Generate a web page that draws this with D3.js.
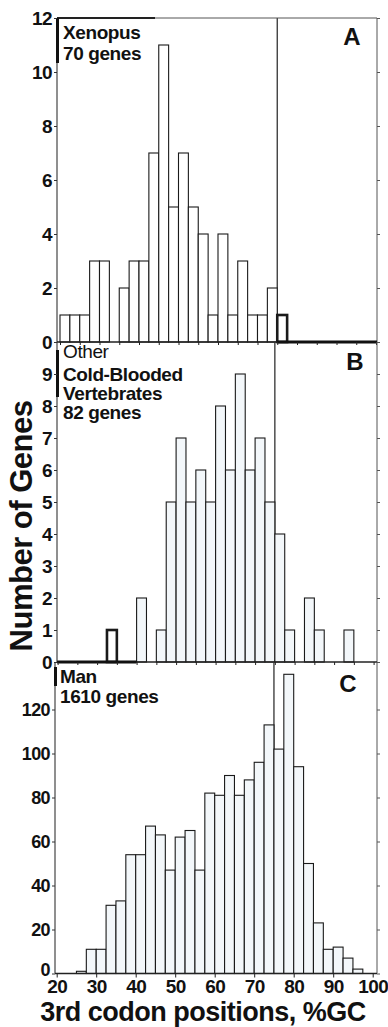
<!DOCTYPE html>
<html>
<head>
<meta charset="utf-8">
<script src="https://cdn.jsdelivr.net/npm/d3@7"></script>
<style>
  html, body { margin: 0; padding: 0; background: #fff; }
  svg { display: block; }
  text { font-family: "Liberation Sans", Arial, Helvetica, sans-serif; fill: #111; }
</style>
</head>
<body>
<svg id="chart" width="388" height="1027"></svg>
<script>
// ---------- DATA ----------
// Bin start (%GC, 2.5% wide bins)
const binsA   = [20, 22.5, 25, 27.5, 30, 32.5, 35, 37.5, 40, 42.5, 45, 47.5, 50, 52.5, 55, 57.5, 60, 62.5, 65, 67.5, 70, 72.5, 75];
const countsA = [1,  1,    1,  3,    3,  0,    2,  3,    3,  7,    11, 5,    7,  5,    4,  1,    4,  1,    3,  1,    1,  2,    1];
const boldA   = [75];

const binsB   = [32.5, 35, 37.5, 40, 42.5, 45, 47.5, 50, 52.5, 55, 57.5, 60, 62.5, 65, 67.5, 70, 72.5, 75, 77.5, 80, 82.5, 85, 87.5, 90, 92.5];
const countsB = [1,    0,  0,    2,  0,    1,  5,    7,  5,    6,  5,    8,  6,    9,  6,    7,  5,    4,  1,    0,  2,    1,  0,    0,  1];
const boldB   = [32.5];

const binsC   = [25, 27.5, 30, 32.5, 35, 37.5, 40, 42.5, 45, 47.5, 50, 52.5, 55, 57.5, 60, 62.5, 65, 67.5, 70, 72.5, 75, 77.5, 80, 82.5, 85, 87.5, 90, 92.5, 95];
const countsC = [1,  11,   11, 31,   33, 54,   54, 67,   63, 47,   62, 65,   47, 82,   81, 90,   81, 88,   96, 113,  102, 136, 94, 50,   23, 11,   12, 7,    2];
const boldC   = [];

const ticksA  = [0, 2, 4, 6, 8, 10, 12];
const ticksB  = [0, 1, 2, 3, 4, 5, 6, 7, 8, 9];
const ticksC  = [0, 20, 40, 60, 80, 100, 120];
const xTicksMajor = [20, 30, 40, 50, 60, 70, 80, 90, 100];
const xTicksMinor = [20, 25, 30, 35, 40, 45, 50, 55, 60, 65, 70, 75, 80, 85, 90, 95, 100];
const splitGC = 75;
const binWidth = 2.5;

const panelLabels = ["A", "B", "C"];
const panelTexts = [
  [{t: "Xenopus", w: "bold"}, {t: "70 genes", w: "bold"}],
  [{t: "Other", w: "normal"}, {t: "Cold-Blooded", w: "bold"}, {t: "Vertebrates", w: "bold"}, {t: "82 genes", w: "bold"}],
  [{t: "Man", w: "bold"}, {t: "1610 genes", w: "bold"}]
];
const yTitle = "Number of Genes";
const xTitle = "3rd codon positions, %GC";

// ---------- LAYOUT ----------
const svg = d3.select("#chart");
const pxPerPct = 3.95;
const frameRight = 377;

const panels = [
  { bins: binsA, counts: countsA, bold: boldA, ticks: ticksA, x20: 60,   left: 57, top: 18,  bottom: 342,   ymax: 12,
    fill: "#ffffff", textY: [39, 60], textX: 63, letter: {x: 352, y: 45},
    thickAxis: [18, 63], thickBase: [splitGC, 100.5], labelWeight: "bold" },
  { bins: binsB, counts: countsB, bold: boldB, ticks: ticksB, x20: 57.6, left: 57, top: 342, bottom: 662,   ymax: 10,
    fill: "#f3f7fa", textY: [358, 381, 400, 419], textX: 63, letter: {x: 355, y: 370},
    thickAxis: [350, 397], thickBase: [19.9, 40], labelWeight: "bold" },
  { bins: binsC, counts: countsC, bold: boldC, ticks: ticksC, x20: 56.7, left: 55, top: 662, bottom: 973.5, ymax: (973.5 - 662) / 2.2,
    fill: "#f3f7fa", textY: [683, 703], textX: 60, letter: {x: 348, y: 692},
    thickAxis: [667, 686], thickBase: null, labelWeight: "bold" }
];

panels.forEach((p, i) => {
  const x = d3.scaleLinear().domain([20, 100]).range([p.x20, p.x20 + 80 * pxPerPct]);
  const y = d3.scaleLinear().domain([0, p.ymax]).range([p.bottom, p.top]);
  const g = svg.append("g");

  // dividing line at 75% GC
  g.append("line")
    .attr("x1", x(splitGC)).attr("x2", x(splitGC))
    .attr("y1", p.top).attr("y2", p.bottom)
    .attr("stroke", "#333").attr("stroke-width", 1.3);

  // bars
  const data = p.bins.map((b, k) => ({ b, c: p.counts[k], bold: p.bold.includes(b) }));
  g.selectAll("rect.bar").data(data.filter(d => d.c > 0)).join("rect")
    .attr("class", "bar")
    .attr("x", d => x(d.b))
    .attr("width", d => x(d.b + binWidth) - x(d.b))
    .attr("y", d => y(d.c))
    .attr("height", d => y(0) - y(d.c))
    .attr("fill", d => d.bold ? "#fff" : p.fill)
    .attr("stroke", "#1a1a1a")
    .attr("stroke-width", d => d.bold ? 2.6 : 1.1);

  // frame: left axis line, right border, baseline
  g.append("line").attr("x1", p.left).attr("x2", p.left).attr("y1", p.top).attr("y2", p.bottom)
    .attr("stroke", "#333").attr("stroke-width", 1.1);
  g.append("line").attr("x1", frameRight).attr("x2", frameRight).attr("y1", p.top).attr("y2", p.bottom)
    .attr("stroke", "#555").attr("stroke-width", 1);
  g.append("line").attr("x1", p.left).attr("x2", frameRight).attr("y1", p.bottom).attr("y2", p.bottom)
    .attr("stroke", "#222").attr("stroke-width", 1.3);
  if (i === 0) {
    g.append("line").attr("x1", p.left).attr("x2", frameRight).attr("y1", p.top).attr("y2", p.top)
      .attr("stroke", "#555").attr("stroke-width", 1);
    g.append("line").attr("x1", p.left).attr("x2", 155).attr("y1", p.top).attr("y2", p.top)
      .attr("stroke", "#222").attr("stroke-width", 1.8);
  }
  // thick stretch of the left axis next to the caption
  g.append("line").attr("x1", p.left + 0.5).attr("x2", p.left + 0.5)
    .attr("y1", p.thickAxis[0]).attr("y2", p.thickAxis[1])
    .attr("stroke", "#111").attr("stroke-width", 3);
  // bold baseline segment
  if (p.thickBase) {
    g.append("line")
      .attr("x1", Math.max(p.left, x(p.thickBase[0]))).attr("x2", Math.min(frameRight, x(p.thickBase[1])))
      .attr("y1", p.bottom).attr("y2", p.bottom)
      .attr("stroke", "#111").attr("stroke-width", 3.2);
  }

  // left axis
  const ya = g.append("g").attr("transform", `translate(${p.left},0)`)
    .call(d3.axisLeft(y).tickValues(p.ticks).tickSize(3).tickPadding(2).tickFormat(d3.format("d")));
  ya.select(".domain").remove();
  ya.selectAll("line").attr("stroke", "#333");
  ya.selectAll("text")
    .style("font-size", i === 2 ? "18px" : "19px")
    .style("font-weight", p.labelWeight)
    .style("letter-spacing", "-0.6px")
    .attr("fill", "#111");
  if (i === 2) {
    // lift the zero label a little so it clears the x tick labels
    ya.selectAll(".tick").filter(d => d === 0).select("text").attr("dy", "0.1em");
  }

  // right ticks
  const yr = g.append("g").attr("transform", `translate(${frameRight},0)`)
    .call(d3.axisRight(y).tickValues(p.ticks).tickSize(3).tickFormat(""));
  yr.select(".domain").remove();
  yr.selectAll("line").attr("stroke", "#555");

  // bottom axis
  if (i < 2) {
    const xb = g.append("g").attr("transform", `translate(0,${p.bottom})`)
      .call(d3.axisBottom(x).tickValues(xTicksMinor.filter(v => x(v) <= frameRight)).tickSize(3).tickFormat(""));
    xb.select(".domain").remove();
    xb.selectAll("line").attr("stroke", "#222");
  } else {
    const xb = g.append("g").attr("transform", `translate(0,${p.bottom})`)
      .call(d3.axisBottom(x).tickValues(xTicksMajor).tickSize(4).tickPadding(2).tickFormat(d3.format("d")));
    xb.select(".domain").remove();
    xb.selectAll("line").attr("stroke", "#222");
    xb.selectAll("text")
      .style("font-size", "19px").style("font-weight", "bold").style("letter-spacing", "-0.6px")
      .attr("fill", "#111");
  }

  // caption
  p.textY.forEach((ty, k) => {
    g.append("text")
      .attr("x", p.textX).attr("y", ty)
      .style("font-size", "19px")
      .style("font-weight", panelTexts[i][k].w)
      .style("letter-spacing", "-0.4px")
      .text(panelTexts[i][k].t);
  });

  // panel letter
  g.append("text")
    .attr("x", p.letter.x).attr("y", p.letter.y)
    .attr("text-anchor", "middle")
    .style("font-size", "24px").style("font-weight", "bold")
    .text(panelLabels[i]);
});

// axis titles
svg.append("text")
  .attr("transform", "translate(32,526) rotate(-90)")
  .attr("text-anchor", "middle")
  .style("font-size", "31px").style("font-weight", "bold").style("letter-spacing", "-0.5px")
  .text(yTitle);

svg.append("text")
  .attr("x", 203).attr("y", 1021)
  .attr("text-anchor", "middle")
  .style("font-size", "27px").style("font-weight", "bold").style("letter-spacing", "-0.5px")
  .text(xTitle);
</script>
</body>
</html>
